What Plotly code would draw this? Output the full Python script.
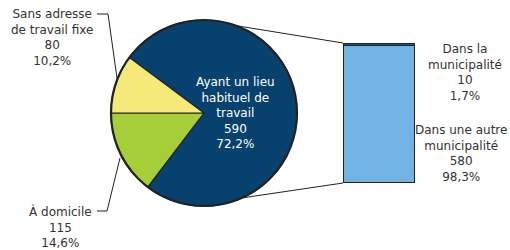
import plotly.graph_objects as go
import math

# --- data ---
pie_labels = ["Ayant un lieu habituel de travail", "À domicile", "Sans adresse de travail fixe"]
pie_values = [590, 115, 80]
pie_pct_text = ["72,2%", "14,6%", "10,2%"]
pie_colors = ["#07426e", "#a6ce39", "#f5e97a"]

bar_labels = ["Dans une autre municipalité", "Dans la municipalité"]
bar_values = [580, 10]
bar_pct_text = ["98,3%", "1,7%"]
bar_colors = ["#74b2e3", "#1d5a8c"]

W, H = 510, 250
FONT = "DejaVu Sans, Verdana, sans-serif"

def px(x):
    return x / W

def py(y):
    return 1 - y / H

# pie geometry (pixels)
cx, cy, r = 204, 113, 93
total = sum(pie_values)
rotation = 360 * pie_values[2] / total - 90

fig = go.Figure()
fig.add_trace(go.Pie(
    labels=pie_labels, values=pie_values, sort=False, direction="clockwise",
    rotation=rotation, textinfo="none", hoverinfo="skip", showlegend=False,
    marker=dict(colors=pie_colors, line=dict(color="#222222", width=1.2)),
    domain=dict(x=[px(cx - r), px(cx + r)], y=[py(cy + r), py(cy - r)]),
))

# bar geometry
bx0, bx1, by0, by1 = 343, 415, 43, 183
for lab, v, c in zip(bar_labels, bar_values, bar_colors):
    fig.add_trace(go.Bar(
        x=["a"], y=[v], name=lab, marker=dict(color=c, line=dict(color="#222222", width=1.5)),
        showlegend=False, hoverinfo="skip", cliponaxis=False,
    ))

fig.update_layout(
    width=W, height=H, margin=dict(l=0, r=0, t=0, b=0),
    paper_bgcolor="white", plot_bgcolor="white", barmode="stack", bargap=0,
    xaxis=dict(domain=[px(bx0), px(bx1)], visible=False, fixedrange=True),
    yaxis=dict(domain=[py(by1), py(by0)], range=[0, sum(bar_values)], visible=False, fixedrange=True),
    font=dict(family=FONT, size=12, color="#333333"),
)

# connector lines pie -> bar
def on_circle(deg):
    a = math.radians(deg)
    return cx + r * math.cos(a), cy - r * math.sin(a)

p_top = on_circle(70)
p_bot = on_circle(-66)
shapes = [
    # outer pie outline (thicker)
    dict(type="circle", xref="paper", yref="paper", x0=px(cx - r), x1=px(cx + r),
         y0=py(cy + r), y1=py(cy - r), line=dict(color="#222222", width=2.2)),
    dict(type="line", xref="paper", yref="paper", x0=px(p_top[0]), y0=py(p_top[1]), x1=px(bx0), y1=py(by0),
         line=dict(color="#222222", width=1)),
    dict(type="line", xref="paper", yref="paper", x0=px(p_bot[0]), y0=py(p_bot[1]), x1=px(bx0), y1=py(by1),
         line=dict(color="#222222", width=1)),
    # leader for "Sans adresse"
    dict(type="path", xref="paper", yref="paper",
         path=f"M {px(97)} {py(14)} L {px(108)} {py(14)} L {px(117)} {py(78)}",
         line=dict(color="#222222", width=1)),
    # leader for "À domicile"
    dict(type="path", xref="paper", yref="paper",
         path=f"M {px(97)} {py(211)} L {px(107)} {py(211)} L {px(120)} {py(158)}",
         line=dict(color="#222222", width=1)),
]
fig.update_layout(shapes=shapes)

def ann(text, x, y, color="#333333", yanchor="top"):
    fig.add_annotation(text=text, x=px(x), y=py(y), xref="paper", yref="paper",
                       showarrow=False, xanchor="center", yanchor=yanchor,
                       font=dict(family=FONT, size=12, color=color), align="center")

ann(f"Sans adresse<br>de travail fixe<br>{pie_values[2]}<br>{pie_pct_text[2]}", 52, 5)
ann(f"À domicile<br>{pie_values[1]}<br>{pie_pct_text[1]}", 60, 202)
ann(f"Ayant un lieu<br>habituel de<br>travail<br>{pie_values[0]}<br>{pie_pct_text[0]}", 235, 73, color="white")
ann(f"Dans la<br>municipalité<br>{bar_values[1]}<br>{bar_pct_text[1]}", 465, 40)
ann(f"Dans une autre<br>municipalité<br>{bar_values[0]}<br>{bar_pct_text[0]}", 461, 121)

fig.write_html("out.html", config={"displayModeBar": False, "staticPlot": True},
               post_script="document.body.style.margin='0';document.body.style.overflow='hidden';")
